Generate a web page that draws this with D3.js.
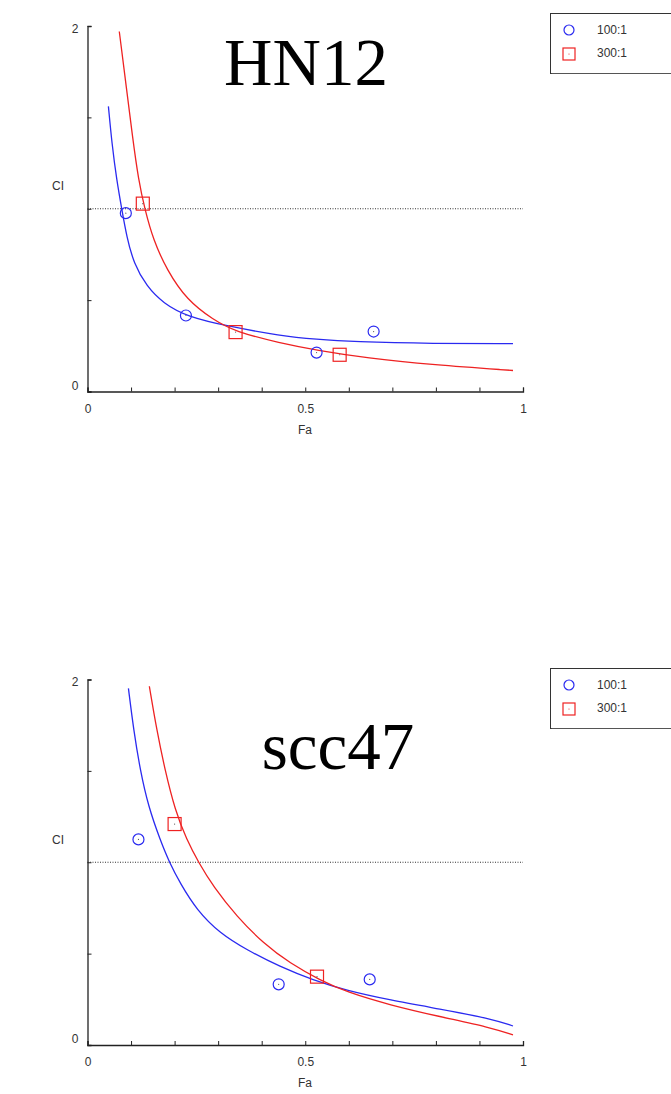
<!DOCTYPE html>
<html>
<head>
<meta charset="utf-8">
<script src="https://cdn.jsdelivr.net/npm/d3@7"></script>
<style>
  body { margin: 0; background: #fff; }
  svg { display: block; }
</style>
</head>
<body>
<svg id="chart" width="671" height="1094"></svg>
<script>
// HN12 panel: observed points and fitted CI curves (Fa, CI)
const hn12Blue = [[0.088, 0.976], [0.226, 0.416], [0.526, 0.213], [0.657, 0.328]];
const hn12Red = [[0.127, 1.028], [0.340, 0.325], [0.579, 0.201]];
const hn12BlueCurve = [[0.048, 1.56], [0.056, 1.358], [0.067, 1.157], [0.079, 0.994], [0.090, 0.848], [0.106, 0.702],
  [0.136, 0.574], [0.174, 0.483], [0.228, 0.41], [0.327, 0.355], [0.442, 0.305], [0.526, 0.285], [0.61, 0.272],
  [0.794, 0.262], [0.977, 0.262]];
const hn12RedCurve = [[0.073, 1.97], [0.09, 1.65], [0.103, 1.4], [0.117, 1.157], [0.132, 0.994], [0.151, 0.83],
  [0.182, 0.666], [0.228, 0.501], [0.289, 0.392], [0.339, 0.328], [0.442, 0.265], [0.526, 0.226], [0.641, 0.183],
  [0.794, 0.146], [0.977, 0.115]];

// scc47 panel
const sccBlue = [[0.117, 1.125], [0.439, 0.332], [0.648, 0.359]];
const sccRed = [[0.2, 1.209], [0.527, 0.374]];
const sccBlueCurve = [[0.094, 1.951], [0.106, 1.723], [0.121, 1.504], [0.14, 1.303], [0.167, 1.121], [0.188, 0.999],
  [0.213, 0.884], [0.251, 0.738], [0.304, 0.611], [0.366, 0.52], [0.442, 0.428], [0.518, 0.355], [0.595, 0.298],
  [0.694, 0.246], [0.809, 0.197], [0.924, 0.146], [0.977, 0.104]];
const sccRedCurve = [[0.142, 1.963], [0.159, 1.723], [0.178, 1.504], [0.201, 1.285], [0.228, 1.121], [0.255, 0.999],
  [0.289, 0.866], [0.343, 0.702], [0.404, 0.556], [0.465, 0.447], [0.534, 0.355], [0.595, 0.29], [0.694, 0.219],
  [0.809, 0.155], [0.924, 0.097], [0.977, 0.055]];

const legendLabels = ["100:1", "300:1"];
const xTickLabels = [0, 0.5, 1];
const yTickLabels = [0, 2];

const panels = [
  { title: "HN12", top: 26, titleX: 306, titleY: 85, blue: hn12Blue, red: hn12Red, blueCurve: hn12BlueCurve, redCurve: hn12RedCurve, legendY: 13 },
  { title: "scc47", top: 679.5, titleX: 338, titleY: 769, blue: sccBlue, red: sccRed, blueCurve: sccBlueCurve, redCurve: sccRedCurve, legendY: 668 }
];

const svg = d3.select("#chart");
const blue = "#2a2af0";
const red = "#ee2222";
const sans = "Liberation Sans, Arial, sans-serif";

panels.forEach((p) => {
  const x = d3.scaleLinear().domain([0, 1]).range([87.5, 523]);
  const y = d3.scaleLinear().domain([0, 2]).range([p.top + 365.5, p.top]);
  const g = svg.append("g");

  // axes, ticks pointing inward
  const xAxis = d3.axisBottom(x).tickValues(d3.range(0, 1.0001, 0.1)).tickSize(-4)
    .tickFormat((d) => xTickLabels.some((v) => Math.abs(v - d) < 1e-6) ? d3.format("")(+d.toFixed(1)) : "");
  const xg = g.append("g").attr("transform", `translate(0,${y(0)})`).call(xAxis);
  const yAxis = d3.axisLeft(y).tickValues(d3.range(0, 2.0001, 0.5)).tickSize(-4)
    .tickFormat((d) => yTickLabels.includes(d) ? d : "");
  const yg = g.append("g").attr("transform", `translate(${x(0)},0)`).call(yAxis);
  [xg, yg].forEach((a) => {
    a.select(".domain").attr("stroke", "#222").attr("stroke-width", 1.3);
    a.selectAll(".tick line").attr("stroke", "#222");
    a.selectAll("text").attr("font-family", sans).attr("font-size", 12).attr("fill", "#333");
  });
  xg.selectAll("text").attr("dy", "1.5em");
  yg.selectAll("text").attr("x", -9).attr("dy", "0.1em");
  yg.selectAll(".tick").filter((d) => d === 0).select("text").attr("dy", "-0.2em");
  yg.selectAll(".tick").filter((d) => d === 2).select("text").attr("dy", "0.5em");

  g.append("text").attr("x", 305).attr("y", y(0) + 42).attr("text-anchor", "middle")
    .attr("font-family", sans).attr("font-size", 12).attr("fill", "#333").text("Fa");
  g.append("text").attr("x", 58).attr("y", y(1.1)).attr("text-anchor", "middle")
    .attr("font-family", sans).attr("font-size", 12).attr("fill", "#333").text("CI");

  // CI = 1 reference line
  g.append("line").attr("x1", x(0)).attr("x2", x(1)).attr("y1", y(1)).attr("y2", y(1))
    .attr("stroke", "#333").attr("stroke-width", 1).attr("stroke-dasharray", "1,1.5");

  // title
  g.append("text").attr("x", p.titleX).attr("y", p.titleY).attr("text-anchor", "middle")
    .attr("font-family", "Liberation Serif, Times New Roman, serif").attr("font-size", 67).attr("fill", "#000").text(p.title);

  const line = d3.line().x((d) => x(d[0])).y((d) => y(d[1])).curve(d3.curveBasis);
  g.append("path").datum(p.blueCurve).attr("d", line).attr("fill", "none").attr("stroke", blue).attr("stroke-width", 1.3);
  g.append("path").datum(p.redCurve).attr("d", line).attr("fill", "none").attr("stroke", red).attr("stroke-width", 1.3);

  // markers
  g.selectAll(".bc").data(p.blue).enter().append("circle")
    .attr("cx", (d) => x(d[0])).attr("cy", (d) => y(d[1])).attr("r", 5.5)
    .attr("fill", "none").attr("stroke", blue).attr("stroke-width", 1.2);
  g.selectAll(".rs").data(p.red).enter().append("rect")
    .attr("x", (d) => x(d[0]) - 6.5).attr("y", (d) => y(d[1]) - 6.5).attr("width", 13).attr("height", 13)
    .attr("fill", "none").attr("stroke", red).attr("stroke-width", 1.2);
  g.selectAll(".dot").data(p.blue.concat(p.red)).enter().append("circle")
    .attr("cx", (d) => x(d[0])).attr("cy", (d) => y(d[1])).attr("r", 0.6).attr("fill", "#555");

  // legend
  const lg = g.append("g").attr("transform", `translate(550,${p.legendY})`);
  lg.append("rect").attr("x", 0.5).attr("y", 0.5).attr("width", 130).attr("height", 60)
    .attr("fill", "#fff").attr("stroke", "#333").attr("stroke-width", 1);
  lg.append("line").attr("x1", 1.5).attr("x2", 130).attr("y1", 60.5).attr("y2", 60.5).attr("stroke", "#555");
  lg.append("circle").attr("cx", 19).attr("cy", 17).attr("r", 5).attr("fill", "none").attr("stroke", blue).attr("stroke-width", 1.2);
  lg.append("rect").attr("x", 13).attr("y", 35).attr("width", 12).attr("height", 12).attr("fill", "none").attr("stroke", red).attr("stroke-width", 1.2);
  lg.append("circle").attr("cx", 19).attr("cy", 41).attr("r", 0.6).attr("fill", red);
  lg.selectAll(".lt").data(legendLabels).enter().append("text")
    .attr("x", 47).attr("y", (d, i) => 21 + i * 23)
    .attr("font-family", sans).attr("font-size", 12).attr("fill", "#333").text((d) => d);
});
</script>
</body>
</html>
